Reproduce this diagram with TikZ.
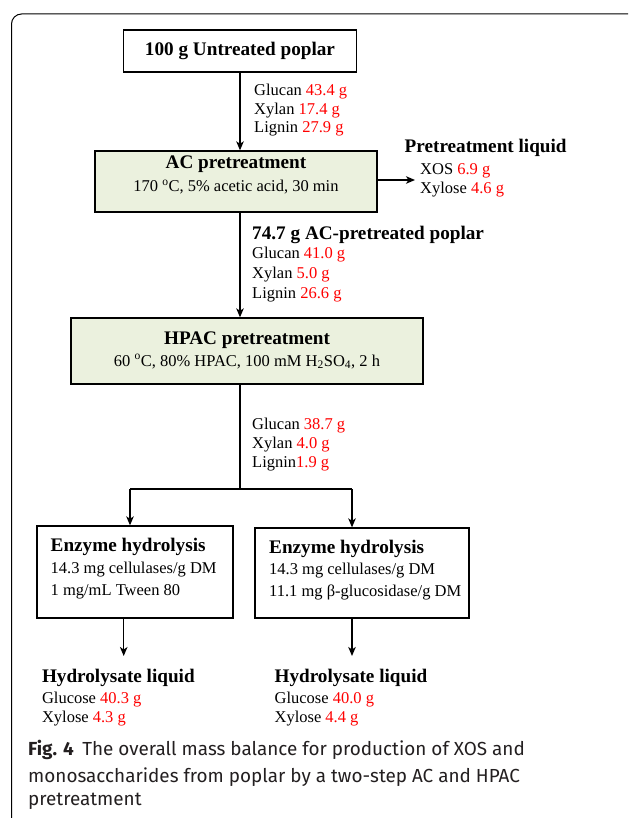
\documentclass[tikz,border=0pt]{standalone}
\usepackage{fontspec}
\setmainfont{Liberation Serif}
\newfontfamily\capfont{Fira Sans}
\usetikzlibrary{arrows.meta}
\definecolor{boxgreen}{RGB}{235,241,222}
\definecolor{valred}{RGB}{255,0,0}
\definecolor{capgray}{RGB}{35,31,32}
\newcommand{\fs}[1]{\fontsize{#1}{#1}\selectfont}
\newcommand{\rv}[1]{\textcolor{valred}{#1}}
\newcommand{\hd}{\fs{19.2}\bfseries}
\newcommand{\rg}{\fs{16.5}}
\tikzset{
  arr/.style={line width=1.4pt, -{Stealth[length=9pt,width=7.5pt,inset=2.5pt]}},
  conn/.style={line width=1.4pt},
  box/.style={draw, line width=1.3pt, inner sep=0pt},
  gbox/.style={box, fill=boxgreen},
  lbl/.style={anchor=base west, inner sep=0pt},
  ctr/.style={anchor=base, inner sep=0pt},
}
\begin{document}
\begin{tikzpicture}[x=1pt,y=-1pt]
\useasboundingbox (0,0) rectangle (630,818);
% outer frame
\draw[line width=1pt] (11.5,818) -- (11.5,24) arc[start angle=180,end angle=270,radius=10] -- (628,14);

% boxes
\node[box, minimum width=233pt, minimum height=42pt] (untreated) at (240,51) {};
\node[ctr] (untt) at (240,56) {\hd 100 g Untreated poplar};
\node[gbox, minimum width=282pt, minimum height=61pt] (ac) at (236,181.5) {};
\node[ctr] (actitle) at (236,169) {\hd AC pretreatment};
\node[ctr] (acsub) at (236,192) {\rg 170 \textsuperscript{o}C, 5\% acetic acid, 30 min};
\node[gbox, minimum width=352pt, minimum height=66pt] (hpac) at (247,351) {};
\node[ctr] (hpactitle) at (247,344) {\hd HPAC pretreatment};
\node[ctr] (hpacsub) at (247,366) {\rg 60 \textsuperscript{o}C, 80\% HPAC, 100 mM H\textsubscript{2}SO\textsubscript{4}, 2 h};
\node[box, minimum width=196pt, minimum height=92pt] (enza) at (135,572) {};
\node[lbl] (enzat) at (50.5,551) {\hd Enzyme hydrolysis};
\node[lbl] (enza1) at (50.5,573) {\rg 14.3 mg cellulases/g DM};
\node[lbl] (enza2) at (50.5,595) {\rg 1 mg/mL Tween 80};
\node[box, minimum width=214pt, minimum height=90pt] (enzb) at (362,573) {};
\node[lbl] (enzbt) at (269,553) {\hd Enzyme hydrolysis};
\node[lbl] (enzb1) at (269,574) {\rg 14.3 mg cellulases/g DM};
\node[lbl] (enzb2) at (269,596) {\rg 11.1 mg β-glucosidase/g DM};

% composition labels
\node[lbl] (g1) at (254,96) {\rg Glucan \rv{43.4 g}};
\node[lbl] (x1) at (254,114.5) {\rg Xylan \rv{17.4 g}};
\node[lbl] (l1) at (254,133) {\rg Lignin \rv{27.9 g}};

\node[lbl] (pl) at (404.5,153) {\hd Pretreatment liquid};
\node[lbl] (xos) at (420,175) {\rg XOS \rv{6.9 g}};
\node[lbl] (xyl) at (420,194) {\rg Xylose \rv{4.6 g}};

\node[lbl] (acp) at (252,240) {\hd 74.7 g AC-pretreated poplar};
\node[lbl] (g2) at (252,258) {\rg Glucan \rv{41.0 g}};
\node[lbl] (x2) at (252,278) {\rg Xylan \rv{5.0 g}};
\node[lbl] (l2) at (252,298) {\rg Lignin \rv{26.6 g}};

\node[lbl] (g3) at (252,429) {\rg Glucan \rv{38.7 g}};
\node[lbl] (x3) at (252,448) {\rg Xylan \rv{4.0 g}};
\node[lbl] (l3) at (252,467) {\rg Lignin\rv{1.9 g}};

\node[lbl] (hla) at (41.8,682) {\hd Hydrolysate liquid};
\node[lbl] (gla) at (41.8,703) {\rg Glucose \rv{40.3 g}};
\node[lbl] (xla) at (41.8,722) {\rg Xylose \rv{4.3 g}};
\node[lbl] (hlb) at (274.4,682) {\hd Hydrolysate liquid};
\node[lbl] (glb) at (274.4,703) {\rg Glucose \rv{40.0 g}};
\node[lbl] (xlb) at (274.4,722) {\rg Xylose \rv{4.4 g}};

% connectors
\coordinate (liqend) at (415,180);
\coordinate (split) at (240,489);
\coordinate (splitl) at (130,489);
\coordinate (splitr) at (352,489);
\coordinate (enda) at (123.7,656);
\coordinate (endb) at (352,656);
\draw[arr] (untreated.south) -- (untreated.south |- ac.north);
\draw[arr] (ac.east |- liqend) -- (liqend);
\draw[arr] (ac.south -| split) -- (hpac.north -| split);
\draw[conn] (hpac.south -| split) -- (split);
\draw[conn] (splitl) -- (splitr);
\draw[arr] (splitl) -- (splitl |- enza.north);
\draw[arr] (splitr) -- (splitr |- enzb.north);
\draw[arr] (enza.south -| enda) -- (enda);
\draw[arr] (enzb.south -| endb) -- (endb);

% caption
\node[lbl, text=capgray] (cap1) at (28,755) {\capfont\fs{18.9}\textbf{Fig. 4}\hspace{0.45em}The overall mass balance for production of XOS and};
\node[lbl, text=capgray] (cap2) at (28,782) {\capfont\fs{18.9}monosaccharides from poplar by a two-step AC and HPAC};
\node[lbl, text=capgray] (cap3) at (28,805) {\capfont\fs{18.9}pretreatment};
\end{tikzpicture}
\end{document}
